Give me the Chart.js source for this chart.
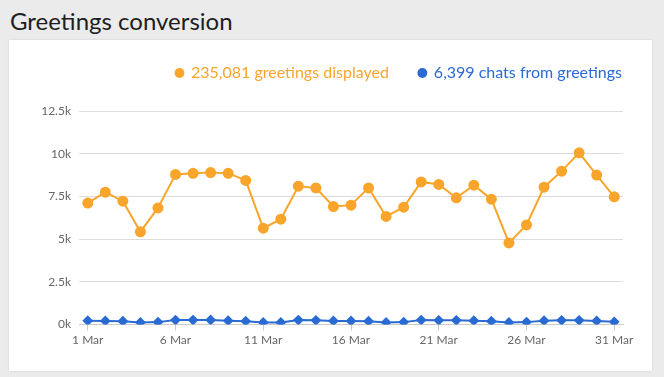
<!DOCTYPE html>
<html>
<head>
<meta charset="utf-8">
<script src="https://cdn.jsdelivr.net/npm/chart.js@4/dist/chart.umd.min.js"></script>
<style>
  body { margin: 0; background: #ebebeb; font-family: Lato, sans-serif; width: 664px; height: 377px; overflow: hidden; }
  h1 { position: absolute; left: 10px; top: 6px; margin: 0; font-size: 24px; font-weight: 400; color: #1e1e1e; }
  #card { position: absolute; left: 9px; top: 40px; width: 643px; height: 331px; background: #fff; box-shadow: 0 0 2px rgba(0,0,0,0.12); }
  #card canvas { position: absolute; left: 0; top: 0; }
</style>
</head>
<body>
<h1>Greetings conversion</h1>
<div id="card"><canvas id="convChart" width="643" height="331"></canvas></div>
<script>
// days of March
const days = [];
for (let d = 1; d <= 31; d++) days.push(d + ' Mar');

const greetingsDisplayed = [7110, 7750, 7220, 5430, 6830, 8790, 8850, 8900, 8850, 8440,
  5640, 6170, 8100, 8000, 6910, 6990, 8000, 6330, 6870, 8350,
  8200, 7420, 8160, 7340, 4780, 5830, 8040, 8980, 10050, 8750, 7480];
const chatsFromGreetings = [230, 215, 200, 130, 145, 265, 265, 270, 230, 200,
  130, 130, 265, 250, 215, 215, 200, 130, 145, 265,
  250, 250, 230, 200, 130, 145, 230, 250, 250, 215, 160];
const seriesLabels = ['235,081 greetings displayed', '6,399 chats from greetings'];
const yTicks = [0, 2500, 5000, 7500, 10000, 12500];

const orange = '#f9a52b';
const blue = '#2a6ad3';

// legend sits to the far right and a bit up, plot pushed down under it
const legendTweak = {
  id: 'legendTweak',
  beforeInit(chart) {
    const fit = chart.legend.fit;
    chart.legend.fit = function () {
      fit.bind(chart.legend)();
      this.height += 15;
    };
  },
  afterLayout(chart) {
    const lg = chart.legend;
    lg.left += 29; lg.right += 29;
    lg.top -= 5; lg.bottom -= 5;
  }
};

const ctx = document.getElementById('convChart').getContext('2d');
new Chart(ctx, {
  type: 'line',
  data: {
    labels: days,
    datasets: [{
      label: seriesLabels[0],
      data: greetingsDisplayed,
      borderColor: orange,
      backgroundColor: orange,
      borderWidth: 2,
      pointRadius: 4.5,
      pointHoverRadius: 4.5,
      pointStyle: 'circle',
      tension: 0
    }, {
      label: seriesLabels[1],
      data: chatsFromGreetings,
      borderColor: blue,
      backgroundColor: blue,
      borderWidth: 2,
      pointRadius: 4,
      pointStyle: 'rectRot',
      tension: 0
    }]
  },
  options: {
    responsive: false,
    animation: false,
    layout: { padding: { top: 0, right: 29, bottom: 22, left: 0 } },
    plugins: {
      legend: {
        position: 'top',
        align: 'end',
        labels: {
          usePointStyle: true,
          boxWidth: 7,
          boxHeight: 7,
          padding: 30,
          font: { family: 'Lato', size: 16 },
          generateLabels(chart) {
            const items = Chart.defaults.plugins.legend.labels.generateLabels(chart);
            items.forEach(it => {
              it.pointStyle = 'circle';
              it.fontColor = it.strokeStyle;
              it.lineWidth = 0;
            });
            return items;
          }
        }
      },
      tooltip: { enabled: false }
    },
    scales: {
      x: {
        offset: true,
        grid: {
          drawOnChartArea: false,
          tickLength: 6,
          color: c => (c.index % 5 === 0 ? '#ccc' : 'rgba(0,0,0,0)')
        },
        border: { color: '#ccc' },
        ticks: {
          autoSkip: false,
          maxRotation: 0,
          color: '#666',
          font: { family: 'Lato', size: 12 },
          padding: 2,
          callback: (v, i) => (i % 5 === 0 ? days[i] : '')
        }
      },
      y: {
        min: 0,
        max: 12500,
        afterFit(scale) { scale.width = 70; },
        afterBuildTicks(scale) { scale.ticks = yTicks.map(v => ({ value: v })); },
        grid: { color: '#dcdcdc', drawTicks: false },
        border: { display: false },
        ticks: {
          color: '#666',
          padding: 8,
          font: { family: 'Lato', size: 12 },
          callback: v => (v / 1000) + 'k'
        }
      }
    }
  },
  plugins: [legendTweak]
});
</script>
</body>
</html>
